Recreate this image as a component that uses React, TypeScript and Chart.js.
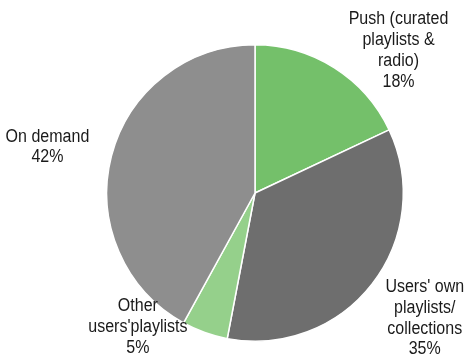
import React, { useEffect, useRef } from "react";
import { Chart, registerables } from "chart.js";

Chart.register(...registerables);

const categories: string[][] = [
  ["Push (curated", "playlists &", "radio)"],
  ["Users' own", "playlists/", "collections"],
  ["Other", "users'playlists"],
  ["On demand"],
];
const shares: number[] = [18, 35, 5, 42];
const colors: string[] = ["#74c06a", "#6e6e6e", "#95d08b", "#8e8e8e"];

// label block centre offsets relative to pie centre, in units of radius
const labelOffsets: [number, number][] = [
  [0.968, -0.96],
  [1.145, 0.845],
  [-0.79, 0.905],
  [-1.4, -0.31],
];

const labelPlugin = {
  id: "outsideLabels",
  afterDraw(chart: any) {
    const meta = chart.getDatasetMeta(0);
    const ctx = chart.ctx;
    ctx.save();
    ctx.font = "18px 'Liberation Sans', Arial, sans-serif";
    ctx.fillStyle = "#1a1a1a";
    ctx.textAlign = "center";
    ctx.textBaseline = "middle";
    const lh = 20.8;
    meta.data.forEach((arc: any, i: number) => {
      const r = arc.outerRadius;
      const cx = arc.x + labelOffsets[i][0] * r;
      const cy = arc.y + labelOffsets[i][1] * r;
      const lines = [...categories[i], shares[i] + "%"];
      const y0 = cy - ((lines.length - 1) * lh) / 2;
      lines.forEach((t, k) => {
        ctx.save();
        ctx.translate(cx, y0 + k * lh);
        ctx.scale(0.89, 1);
        ctx.fillText(t, 0, 0);
        ctx.restore();
      });
    });
    ctx.restore();
  },
};

export default function App() {
  const ref = useRef<HTMLCanvasElement | null>(null);
  useEffect(() => {
    document.body.style.margin = "0";
    const chart = new Chart(ref.current as HTMLCanvasElement, {
      type: "pie",
      data: {
        labels: categories.map((c) => c.join(" ")),
        datasets: [
          {
            data: shares,
            backgroundColor: colors,
            borderColor: "#ffffff",
            borderWidth: 1.5,
          },
        ],
      },
      options: {
        responsive: false,
        animation: false,
        layout: { padding: { left: 106, right: 61, top: 44, bottom: 19 } },
        plugins: { legend: { display: false }, tooltip: { enabled: false } },
      },
      plugins: [labelPlugin],
    });
    return () => chart.destroy();
  }, []);
  return (
    <div style={{ width: 465, height: 361, background: "#fff" }}>
      <canvas ref={ref} width={465} height={361} />
    </div>
  );
}
